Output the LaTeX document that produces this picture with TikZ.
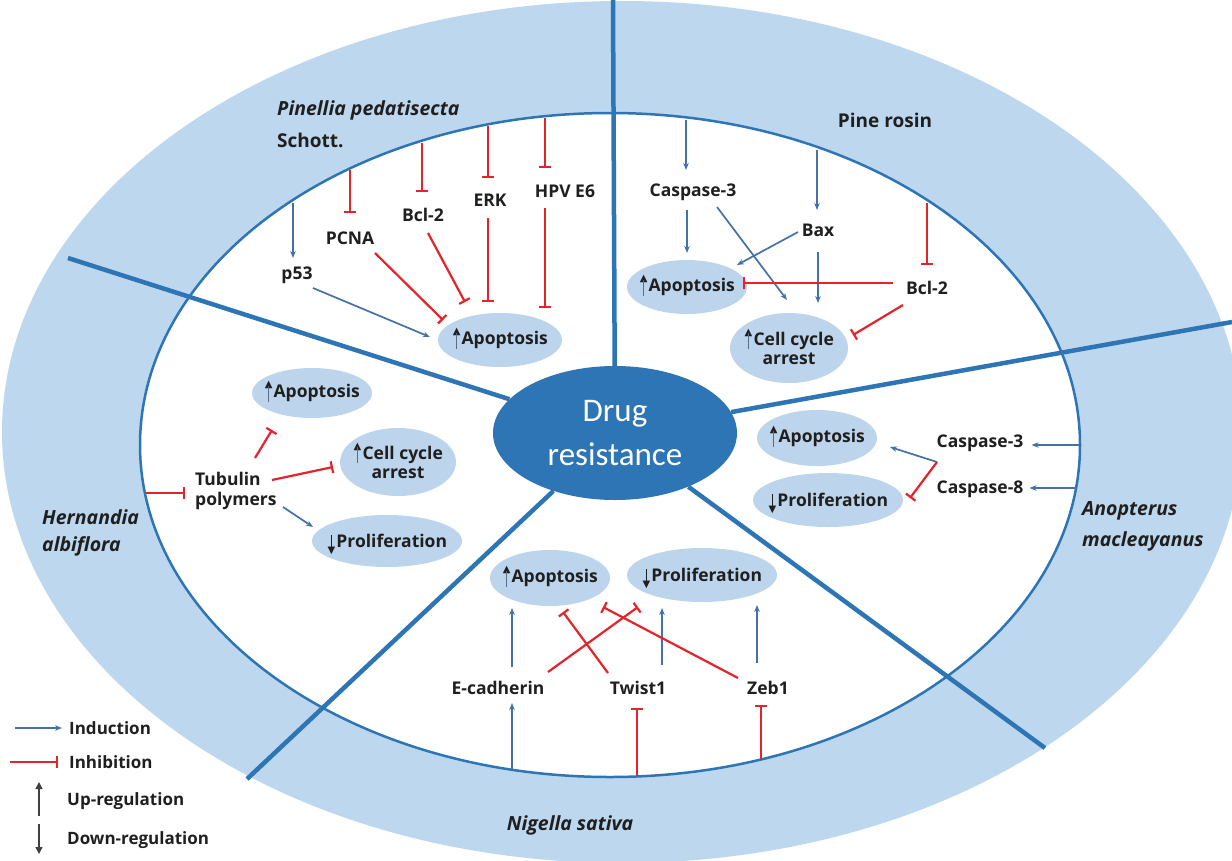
\documentclass[tikz,border=0pt]{standalone}
\usepackage{fontspec}
\setmainfont{Open Sans}
\newfontfamily\drugfont{Carlito}
\newfontfamily\symfont{DejaVu Sans}
\usetikzlibrary{arrows.meta,shapes.geometric,calc}
\definecolor{ringblue}{HTML}{BDD7EE}
\definecolor{nodeblue}{HTML}{BDD5EC}
\definecolor{lineblue}{HTML}{2E75B6}
\definecolor{indblue}{HTML}{4472A8}
\definecolor{inhred}{HTML}{E3242B}
\definecolor{shaftgray}{HTML}{5A6E8C}
\newcommand\myup{\raisebox{-4pt}[0pt][0pt]{\vbox{\hbox to 9pt{\hss{\symfont\fontsize{10}{10}\selectfont\char"25B2}\hss}\nointerlineskip\vskip-3.5pt\hbox to 9pt{\hss\textcolor{shaftgray}{\rule{1.4pt}{16pt}}\hss}}}\kern0.5pt}
\newcommand\mydown{\raisebox{-6pt}[0pt][0pt]{\vbox{\hbox to 9pt{\hss\rule{1.4pt}{16pt}\hss}\nointerlineskip\vskip-4pt\hbox to 9pt{\hss{\symfont\fontsize{10}{10}\selectfont\char"25BC}\hss}}}\kern0.5pt}
\begin{document}
\begin{tikzpicture}[x=1pt,y=-1pt,
  lbl/.style={font=\fontsize{17.5}{20}\selectfont\bfseries, inner sep=1pt, text=black!88},
  leg/.style={font=\fontsize{17}{20}\selectfont\bfseries, inner sep=1pt, text=black!88, anchor=west},
  spec/.style={font=\fontsize{19.5}{22}\selectfont\bfseries\itshape, inner sep=1pt, text=black!88},
  effbg/.style={ellipse, fill=nodeblue, inner sep=0pt, outer sep=0pt},
  efftxt/.style={font=\fontsize{17.5}{19}\selectfont\bfseries, align=center, inner sep=0pt, text=black!88},
  ind/.style={draw=indblue, line width=1.7pt, -{Stealth[length=7pt,width=5.5pt]}},
  inh/.style={draw=inhred, line width=2.2pt, -{Bar[width=12pt]}},
  divider/.style={draw=lineblue, line width=4.5pt},
  updn/.style={draw=black!75, line width=1.5pt, -{Triangle[length=7pt,width=7pt]}},
]
\clip (0,0) rectangle (1232,860);
% rings
\node[ellipse, fill=ringblue, minimum width=1240pt, minimum height=862pt, inner sep=0pt] (outer) at (622,432) {};
\node[ellipse, draw=lineblue, line width=2.5pt, fill=white, minimum width=940pt, minimum height=664pt, inner sep=0pt] (inner) at (610,445) {};
\node[ellipse, fill=lineblue, minimum width=244pt, minimum height=134pt, inner sep=0pt, text=white, align=center, font=\drugfont\fontsize{33}{44}\selectfont] (drug) at (615,433) {Drug\\resistance};
% dividers
\coordinate (dv) at (613,0);
\coordinate (dul) at (68,258);
\coordinate (dur) at (1232,322);
\coordinate (dll) at (247,779);
\coordinate (dlr) at (1045,748);
\draw[divider] (dv) -- (drug);
\draw[divider] (dul) -- (drug);
\draw[divider] (dur) -- (drug);
\draw[divider] (dll) -- (drug);
\draw[divider] (dlr) -- (drug);

% ---------- Pinellia sector
\node[spec, anchor=west] (pin) at (276,110) {Pinellia pedatisecta};
\node[lbl, anchor=west, font=\fontsize{19}{20}\selectfont\bfseries] (schott) at (276,140) {Schott.};
\node[lbl] (p53) at (297,275) {p53};
\node[lbl] (pcna) at (350,238) {PCNA};
\node[lbl] (bcla) at (423,215) {Bcl-2};
\node[lbl] (erk) at (490,200) {ERK};
\node[lbl] (hpv) at (565,191) {HPV E6};
\node[effbg, minimum width=124pt, minimum height=54pt] (apoA) at (500,340) {};
\node[efftxt] (apoAt) at (apoA) {\myup Apoptosis};
\coordinate (sp53) at (293,203);
\coordinate (spcna) at (350,170);
\coordinate (sbcl) at (422,143);
\coordinate (serk) at (488,126);
\coordinate (shpv) at (545,118);
\draw[ind] (sp53) -- ($(p53)+(-4,-17)$);
\draw[inh] (spcna) -- ($(pcna)+(0,-25)$);
\draw[inh] (sbcl) -- ($(bcla)+(-1,-23)$);
\draw[inh] (serk) -- ($(erk)+(-2,-22)$);
\draw[inh] (shpv) -- ($(hpv)+(-20,-23)$);
\draw[inh] ($(pcna)+(25,15)$) -- ($(apoA)+(-57,-20)$);
\draw[inh] ($(bcla)+(5,18)$) -- ($(apoA)+(-35,-38)$);
\draw[inh] ($(erk)+(-2,18)$) -- ($(apoA)+(-12,-38)$);
\draw[inh] ($(hpv)+(-20,17)$) -- ($(apoA)+(45,-32)$);
\draw[ind] ($(p53)+(16,13)$) -- ($(apoA)+(-70,-3)$);

% ---------- Pine rosin sector
\node[lbl, font=\fontsize{19}{20}\selectfont\bfseries] (pine) at (885,120) {Pine rosin};
\node[lbl] (casA) at (693,192) {Caspase-3};
\node[lbl] (bax) at (818,230) {Bax};
\node[lbl] (bclb) at (927,288) {Bcl-2};
\node[effbg, minimum width=120pt, minimum height=54pt] (apoB) at (687,287) {};
\node[efftxt] (apoBt) at (apoB) {\myup Apoptosis};
\node[effbg, minimum width=118pt, minimum height=70pt] (ccaB) at (789,348) {};
\node[efftxt] (ccaBt) at (ccaB) {\myup Cell cycle\\arrest};
\coordinate (scas) at (686,120);
\coordinate (sbax) at (817,150);
\coordinate (sbclb) at (927,203);
\draw[ind] (scas) -- ($(casA)+(-7,-22)$);
\draw[ind] (sbax) -- ($(bax)+(-1,-20)$);
\draw[inh] (sbclb) -- ($(bclb)+(0,-23)$);
\draw[ind] ($(casA)+(-6,18)$) -- ($(apoB)+(0,-34)$);
\draw[ind] ($(casA)+(24,15)$) -- ($(ccaB)+(-2,-48)$);
\draw[ind] ($(bax)+(-20,2)$) -- ($(apoB)+(50,-22)$);
\draw[ind] ($(bax)+(0,22)$) -- ($(ccaB)+(29,-45)$);
\draw[inh] ($(bclb)+(-34,-5)$) -- ($(apoB)+(56,-4)$);
\draw[inh] ($(bclb)+(-24,17)$) -- ($(ccaB)+(64,-13)$);

% ---------- Hernandia sector
\node[spec, anchor=west] (hern) at (41,517) {Hernandia};
\node[spec, anchor=west] (albi) at (41,546) {albiflora};
\node[lbl, anchor=west, align=left] (tub) at (194,491) {Tubulin\\polymers};
\node[effbg, minimum width=120pt, minimum height=50pt] (apoC) at (312,393) {};
\node[efftxt] (apoCt) at (apoC) {\myup Apoptosis};
\node[effbg, minimum width=116pt, minimum height=68pt] (ccaC) at (398,462) {};
\node[efftxt] (ccaCt) at (ccaC) {\myup Cell cycle\\arrest};
\node[effbg, minimum width=150pt, minimum height=52pt] (proC) at (387,541) {};
\node[efftxt] (proCt) at (proC) {\mydown Proliferation};
\coordinate (stub) at (146,493);
\draw[inh] (stub) -- ($(tub.west)+(-9,2)$);
\draw[inh] ($(tub.west)+(61,-33)$) -- ($(apoC)+(-40,37)$);
\draw[inh] ($(tub.west)+(78,-11)$) -- ($(ccaC)+(-65,5)$);
\draw[ind] ($(tub.west)+(89,16)$) -- ($(proC)+(-74,-14)$);

% ---------- Anopterus sector
\node[spec, anchor=west] (anop) at (1081,511) {Anopterus};
\node[spec, anchor=west] (macl) at (1081,541) {macleayanus};
\node[lbl] (casB) at (980,443) {Caspase-3};
\node[lbl] (cas8) at (980,489) {Caspase-8};
\node[effbg, minimum width=120pt, minimum height=56pt] (apoD) at (817,438) {};
\node[efftxt] (apoDt) at (apoD) {\myup Apoptosis};
\node[effbg, minimum width=150pt, minimum height=54pt] (proD) at (828,500) {};
\node[efftxt] (proDt) at (proD) {\mydown Proliferation};
\coordinate (scas3) at (1080,445);
\coordinate (scas8) at (1077,488);
\coordinate (jn) at (937,462);
\draw[ind] (scas3) -- ($(casB.east)+(7,2)$);
\draw[ind] (scas8) -- ($(cas8.east)+(5,-1)$);
\draw[ind] (jn) -- ($(apoD)+(73,9)$);
\draw[inh] (jn) -- ($(proD)+(82,-2)$);

% ---------- Nigella sector
\node[spec] (nig) at (570,825) {Nigella sativa};
\node[lbl] (ecad) at (498,688) {E-cadherin};
\node[lbl] (twist) at (638,688) {Twist1};
\node[lbl] (zeb) at (768,688) {Zeb1};
\node[effbg, minimum width=120pt, minimum height=56pt] (apoE) at (550,578) {};
\node[efftxt] (apoEt) at (apoE) {\myup Apoptosis};
\node[effbg, minimum width=150pt, minimum height=54pt] (proE) at (702,575) {};
\node[efftxt] (proEt) at (proE) {\mydown Proliferation};
\coordinate (secad) at (512,770);
\coordinate (stw) at (637,776);
\coordinate (szeb) at (761,760);
\draw[ind] (secad) -- ($(ecad)+(14,15)$);
\draw[inh] (stw) -- ($(twist)+(-1,20)$);
\draw[inh] (szeb) -- ($(zeb)+(-7,17)$);
\draw[ind] ($(ecad)+(14,-21)$) -- ($(apoE)+(-38,30)$);
\draw[ind] ($(twist)+(24,-23)$) -- ($(proE)+(-40,33)$);
\draw[ind] ($(zeb)+(-11,-25)$) -- ($(proE)+(55,30)$);
\draw[inh] ($(ecad)+(50,-16)$) -- ($(proE)+(-64,32)$);
\draw[inh] ($(twist)+(-30,-15)$) -- ($(apoE)+(13,34)$);
\draw[inh] ($(zeb)+(-30,-10)$) -- ($(apoE)+(53,29)$);

% ---------- legend
\node[leg] (lgind) at (68,728) {Induction};
\node[leg] (lginh) at (68,762) {Inhibition};
\node[leg] (lgup) at (66,801) {Up-regulation};
\node[leg] (lgdn) at (66,840) {Down-regulation};
\coordinate (lgis) at (15,728);
\coordinate (lghs) at (10,762);
\coordinate (lgus) at (39,816);
\coordinate (lgue) at (39,782);
\coordinate (lgds) at (39,824);
\coordinate (lgde) at (39,854);
\draw[ind] (lgis) -- ($(lgind.west)+(-6,0)$);
\draw[inh] (lghs) -- ($(lginh.west)+(-10,0)$);
\draw[updn] (lgus) -- (lgue);
\draw[updn] (lgds) -- (lgde);
\end{tikzpicture}
\end{document}
